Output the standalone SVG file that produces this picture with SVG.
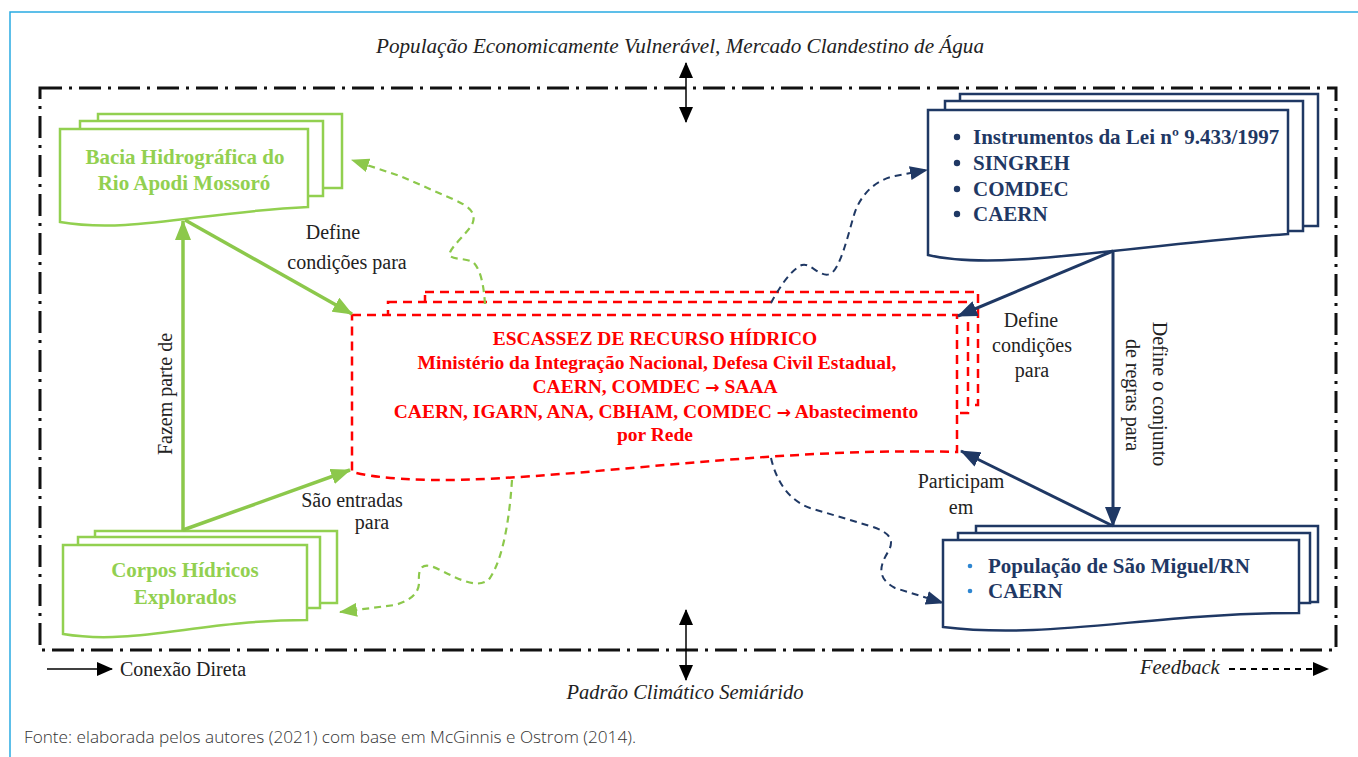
<svg xmlns="http://www.w3.org/2000/svg" width="1358" height="757" viewBox="0 0 1358 757">
<style>
.lbl{font-family:"Liberation Serif","Times New Roman",serif;font-size:20px;fill:#222}
.it{font-family:"Liberation Serif","Times New Roman",serif;font-style:italic;font-size:20.5px;fill:#222}
.gt{font-family:"Liberation Serif","Times New Roman",serif;font-weight:bold;font-size:21px;fill:#92d050}
.nt{font-family:"Liberation Serif","Times New Roman",serif;font-weight:bold;font-size:21px;fill:#1f3864}
.rt{font-family:"Liberation Serif","Times New Roman",serif;font-weight:bold;font-size:19.5px;fill:#ff0000}
.ar{font-family:"DejaVu Sans",sans-serif;font-weight:bold;font-size:17px}
.gdoc{fill:#fff;stroke:#92d050;stroke-width:2.5}
.ndoc{fill:#fff;stroke:#1f3864;stroke-width:2.5}
.rdoc{fill:#fff;stroke:#ff0000;stroke-width:2.5;stroke-dasharray:9 6}
.gs{fill:none;stroke:#8cc84b;stroke-width:3.5}
.ns{fill:none;stroke:#1f3864;stroke-width:3}
.gd{fill:none;stroke:#8cc84b;stroke-width:2.2;stroke-dasharray:7 5}
.nd{fill:none;stroke:#1f3864;stroke-width:2;stroke-dasharray:7 5}
.frame{fill:none;stroke:#111;stroke-width:3;stroke-dasharray:22 7 3 7}
</style>
<defs>
<marker id="aG" markerUnits="userSpaceOnUse" markerWidth="20" markerHeight="16" refX="19" refY="8" orient="auto"><path d="M0,0 L20,8 L0,16 z" fill="#8cc84b"/></marker>
<marker id="aN" markerUnits="userSpaceOnUse" markerWidth="20" markerHeight="16" refX="19" refY="8" orient="auto"><path d="M0,0 L20,8 L0,16 z" fill="#1f3864"/></marker>
<marker id="aGd" markerUnits="userSpaceOnUse" markerWidth="18" markerHeight="14" refX="17" refY="7" orient="auto"><path d="M0,0 L18,7 L0,14 z" fill="#8cc84b"/></marker>
<marker id="aNd" markerUnits="userSpaceOnUse" markerWidth="18" markerHeight="14" refX="17" refY="7" orient="auto"><path d="M0,0 L18,7 L0,14 z" fill="#1f3864"/></marker>
<marker id="aK" markerUnits="userSpaceOnUse" markerWidth="16" markerHeight="14" refX="15" refY="7" orient="auto-start-reverse"><path d="M0,0 L16,7 L0,14 z" fill="#000"/></marker>
</defs>
<rect width="1358" height="757" fill="#fff"/>
<path d="M10,757 V12 H1358" fill="none" stroke="#29abe2" stroke-width="1.5"/>

<text class="it" x="680" y="53" text-anchor="middle" textLength="608" lengthAdjust="spacingAndGlyphs">População Economicamente Vulnerável, Mercado Clandestino de Água</text>

<rect id="frame" class="frame" x="40" y="88" width="1296" height="562"/>

<g id="env-arrows">
<line x1="686" y1="63" x2="686" y2="122" stroke="#000" stroke-width="1.5" marker-start="url(#aK)" marker-end="url(#aK)"/>
<line x1="686" y1="610" x2="686" y2="680" stroke="#000" stroke-width="1.5" marker-start="url(#aK)" marker-end="url(#aK)"/>
</g>
<text class="it" x="685" y="699" text-anchor="middle">Padrão Climático Semiárido</text>

<g id="node-bacia">
<rect class="gdoc" x="98" y="114" width="244" height="74"/>
<rect class="gdoc" x="80" y="121" width="243" height="75"/>
<path class="gdoc" d="M60,129 H308 V207 C200,212 130,234 60,222 Z"/>
<text class="gt" x="185" y="164" text-anchor="middle">Bacia Hidrográfica do</text>
<text class="gt" x="184" y="190" text-anchor="middle">Rio Apodi Mossoró</text>
</g>

<g id="node-corpos">
<rect class="gdoc" x="95" y="531" width="242" height="72"/>
<rect class="gdoc" x="78" y="537" width="242" height="71"/>
<path class="gdoc" d="M63,545 H307 V620 C200,620 135,646 63,634 Z"/>
<text class="gt" x="185" y="577" text-anchor="middle">Corpos Hídricos</text>
<text class="gt" x="185" y="604" text-anchor="middle">Explorados</text>
</g>

<g id="node-escassez">
<rect class="rdoc" x="425" y="292" width="553" height="113"/>
<rect class="rdoc" x="388" y="302" width="580" height="111"/>
<path class="rdoc" d="M352,315 H957 V452 C720,445 470,500 352,472 Z"/>
<text class="rt" x="655" y="345" text-anchor="middle">ESCASSEZ DE RECURSO HÍDRICO</text>
<text class="rt" x="657" y="369" text-anchor="middle">Ministério da Integração Nacional, Defesa Civil Estadual,</text>
<text class="rt" x="655" y="393" text-anchor="middle">CAERN, COMDEC <tspan class="ar">→</tspan> SAAA</text>
<text class="rt" x="656" y="418" text-anchor="middle">CAERN, IGARN, ANA, CBHAM, COMDEC <tspan class="ar">→</tspan> Abastecimento</text>
<text class="rt" x="655" y="441" text-anchor="middle">por Rede</text>
</g>

<g id="node-instrumentos">
<rect class="ndoc" x="960" y="94" width="358" height="132"/>
<rect class="ndoc" x="945" y="101" width="358" height="130"/>
<path class="ndoc" d="M928,110 H1288 V234 C1130,245 1000,272 928,255 Z"/>
<g fill="#1f3864"><circle cx="957" cy="137" r="3.2"/><circle cx="957" cy="163" r="3.2"/><circle cx="957" cy="189" r="3.2"/><circle cx="957" cy="214" r="3.2"/></g>
<text class="nt" x="973" y="144">Instrumentos da Lei nº 9.433/1997</text>
<text class="nt" x="973" y="170">SINGREH</text>
<text class="nt" x="973" y="196">COMDEC</text>
<text class="nt" x="973" y="221">CAERN</text>
</g>

<g id="node-populacao">
<rect class="ndoc" x="976" y="526" width="342" height="76"/>
<rect class="ndoc" x="958" y="533" width="352" height="70"/>
<path class="ndoc" d="M943,540 H1299 V613 C1150,613 1050,640 943,627 Z"/>
<g fill="#2e86d1"><circle cx="970" cy="566" r="2.3"/><circle cx="970" cy="591" r="2.3"/></g>
<text class="nt" x="988" y="573">População de São Miguel/RN</text>
<text class="nt" x="988" y="598">CAERN</text>
</g>

<g id="connectors">
<line class="gs" x1="185" y1="220" x2="352" y2="314" marker-end="url(#aG)"/>
<line class="gs" x1="183" y1="531" x2="183" y2="221" marker-end="url(#aG)"/>
<line class="gs" x1="183" y1="530" x2="350" y2="470" marker-end="url(#aG)"/>
<line class="ns" x1="1113" y1="251" x2="958" y2="316" marker-end="url(#aN)"/>
<line class="ns" x1="1113" y1="251" x2="1113" y2="526" marker-end="url(#aN)"/>
<line class="ns" x1="1113" y1="526" x2="961" y2="451" marker-end="url(#aN)"/>
<path class="gd" d="M485,304 C484,290 482,272 474,263 C468,258 455,260 450,256 C446,250 470,232 473,222 C476,212 468,206 455,200 L400,176 L352,160" marker-end="url(#aGd)"/>
<path class="gd" d="M512,480 C510,510 505,555 490,578 C480,590 460,580 440,570 C425,562 418,565 419,580 C420,592 412,600 395,605 L340,612" marker-end="url(#aGd)"/>
<path class="nd" d="M771,303 C778,290 790,270 802,265 C810,262 820,278 830,274 C840,270 848,235 854,215 C860,195 875,180 895,176 L927,170" marker-end="url(#aNd)"/>
<path class="nd" d="M771,458 C776,480 788,500 810,508 L870,526 C890,532 895,540 888,552 C880,565 876,578 895,588 L943,603" marker-end="url(#aNd)"/>
</g>

<g id="labels">
<text class="lbl" x="333" y="239" text-anchor="middle">Define</text>
<text class="lbl" x="347" y="269" text-anchor="middle">condições para</text>
<text class="lbl" transform="translate(172,394) rotate(-90)" text-anchor="middle">Fazem parte de</text>
<text class="lbl" x="352" y="507" text-anchor="middle">São entradas</text>
<text class="lbl" x="372" y="529" text-anchor="middle">para</text>
<text class="lbl" x="1031" y="327" text-anchor="middle">Define</text>
<text class="lbl" x="1032" y="352" text-anchor="middle">condições</text>
<text class="lbl" x="1032" y="377" text-anchor="middle">para</text>
<text class="lbl" transform="translate(1153,394) rotate(90)" text-anchor="middle">Define o conjunto</text>
<text class="lbl" transform="translate(1126,395) rotate(90)" text-anchor="middle">de regras para</text>
<text class="lbl" x="961" y="488" text-anchor="middle">Participam</text>
<text class="lbl" x="961" y="514" text-anchor="middle">em</text>
</g>

<g id="legend">
<line x1="47" y1="669" x2="112" y2="669" stroke="#000" stroke-width="1.5" marker-end="url(#aK)"/>
<text class="lbl" x="120" y="676">Conexão Direta</text>
<text class="it" x="1140" y="674">Feedback</text>
<line x1="1229" y1="669" x2="1328" y2="669" stroke="#000" stroke-width="1.8" stroke-dasharray="6 5" marker-end="url(#aK)"/>
</g>

<text x="24" y="743" font-family="'Open Sans','Noto Sans',sans-serif" font-size="16.5" font-weight="300" fill="#333" textLength="612" lengthAdjust="spacingAndGlyphs">Fonte: elaborada pelos autores (2021) com base em McGinnis e Ostrom (2014).</text>
</svg>
